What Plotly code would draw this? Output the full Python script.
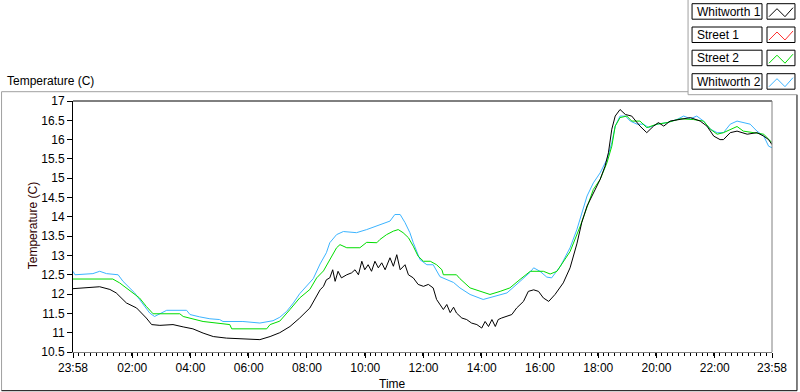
import datetime as dt
import plotly.graph_objects as go

# ---------------- data ----------------
series_names = ["Whitworth 1", "Street 1", "Street 2", "Whitworth 2"]
series_colors = ["#000000", "#ff3030", "#00dd00", "#3cb4ff"]

whitworth1_times = ["23:58", "00:39", "00:53", "01:14", "01:27", "01:48", "02:09", "02:29", "02:40", "02:57",
                    "03:24", "03:45", "04:05", "04:26", "04:47", "05:14", "05:42", "06:09", "06:23", "06:44",
                    "07:04", "07:25", "07:45", "08:06", "08:27", "08:34", "08:40", "08:47", "08:53", "08:58",
                    "09:04", "09:11", "09:22", "09:32", "09:39", "09:46", "09:53", "09:59", "10:06", "10:13",
                    "10:20", "10:27", "10:34", "10:41", "10:51", "10:58", "11:05", "11:12", "11:22", "11:29",
                    "11:39", "11:49", "12:00", "12:10", "12:20", "12:27", "12:34", "12:41", "12:48", "12:55",
                    "13:02", "13:08", "13:19", "13:29", "13:39", "13:50", "14:00", "14:07", "14:14", "14:21",
                    "14:28", "14:34", "14:41", "14:52", "15:02", "15:12", "15:26", "15:36", "15:47", "15:57",
                    "16:07", "16:18", "16:31", "16:48", "17:02", "17:16", "17:26", "17:37", "17:50",
                    "18:04", "18:14", "18:21", "18:28", "18:35", "18:45", "18:56", "19:09", "19:26", "19:40",
                    "19:54", "20:04", "20:15", "20:28", "20:49", "21:10", "21:30", "21:44", "21:58", "22:11",
                    "22:18", "22:32", "22:46", "23:07", "23:27", "23:41", "23:51", "23:58"]
whitworth1_values = [12.14, 12.19, 12.19, 12.12, 12.03, 11.77, 11.64, 11.38, 11.21, 11.19,
                     11.21, 11.15, 11.10, 10.99, 10.90, 10.86, 10.84, 10.82, 10.82, 10.90,
                     11.00, 11.16, 11.38, 11.64, 12.11, 12.20, 12.37, 12.42, 12.63, 12.33,
                     12.59, 12.42, 12.50, 12.55, 12.63, 12.50, 12.85, 12.63, 12.76, 12.59,
                     12.85, 12.68, 12.81, 12.63, 12.94, 12.72, 13.02, 12.63, 12.76, 12.50,
                     12.42, 12.25, 12.20, 12.25, 12.16, 11.86, 11.73, 11.60, 11.73, 11.52,
                     11.66, 11.51, 11.38, 11.34, 11.25, 11.21, 11.12, 11.29, 11.16, 11.34,
                     11.16, 11.34, 11.38, 11.42, 11.47, 11.64, 11.81, 12.07, 12.11, 12.07,
                     11.90, 11.81, 11.99, 12.29, 12.68, 13.30, 13.85, 14.28, 14.62,
                     14.97, 15.31, 15.66, 16.27, 16.61, 16.78, 16.65, 16.61, 16.35, 16.18,
                     16.35, 16.44, 16.35, 16.48, 16.52, 16.57, 16.48, 16.35, 16.09, 16.00,
                     16.00, 16.18, 16.22, 16.14, 16.18, 16.09, 16.00, 15.87]

street1_times = []
street1_values = []

street2_times = ["23:58", "01:20", "01:34", "01:48", "02:02", "02:15", "02:29", "02:43", "03:38", "03:45",
                 "04:26", "05:21", "05:25", "06:37", "06:44", "07:04", "07:25", "07:45", "08:06", "08:20",
                 "08:34", "08:47", "09:01", "09:08", "09:22", "09:49", "10:03", "10:24", "10:30", "10:44",
                 "10:58", "11:08", "11:18", "11:29", "11:39", "11:49", "12:00", "12:14", "12:27", "12:38",
                 "12:41", "13:08", "13:15", "13:36", "13:57", "14:17", "14:38", "14:58", "15:19", "15:40",
                 "16:07", "16:21", "16:35", "16:42", "17:02", "17:23", "17:37", "17:50", "18:04", "18:18",
                 "18:28", "18:35", "18:45", "18:59", "19:09", "19:26", "19:40", "20:01", "20:22", "20:49",
                 "21:16", "21:37", "21:51", "22:05", "22:18", "22:32", "22:46", "22:59", "23:20", "23:41",
                 "23:58"]
street2_values = [12.39, 12.39, 12.29, 12.16, 12.03, 11.90, 11.68, 11.49, 11.49, 11.42,
                  11.29, 11.21, 11.10, 11.10, 11.21, 11.30, 11.60, 11.90, 12.12, 12.42,
                  12.60, 12.90, 13.20, 13.28, 13.20, 13.20, 13.34, 13.33, 13.41, 13.54,
                  13.63, 13.67, 13.59, 13.46, 13.24, 12.98, 12.85, 12.85, 12.76, 12.63,
                  12.50, 12.50, 12.40, 12.16, 12.07, 11.99, 12.07, 12.16, 12.38, 12.59,
                  12.59, 12.52, 12.59, 12.72, 13.10, 13.76, 14.28, 14.71, 14.97, 15.40,
                  15.83, 16.35, 16.57, 16.61, 16.48, 16.48, 16.31, 16.40, 16.44, 16.54,
                  16.52, 16.48, 16.27, 16.14, 16.18, 16.27, 16.34, 16.22, 16.18, 16.14,
                  15.92]

whitworth2_times = ["23:58", "00:02", "00:39", "00:53", "01:07", "01:31", "01:41", "01:55", "02:05", "02:15",
                    "02:26", "02:36", "02:46", "02:57", "03:11", "03:52", "03:59", "04:19", "04:40", "05:00",
                    "05:07", "05:48", "06:23", "06:50", "07:04", "07:18", "07:32", "07:45", "07:59", "08:13",
                    "08:27", "08:40", "08:47", "09:01", "09:15", "09:42", "10:03", "10:30", "10:51", "11:01",
                    "11:12", "11:22", "11:32", "11:39", "11:46", "11:53", "12:07", "12:20", "12:34", "12:48",
                    "13:02", "13:15", "13:36", "14:03", "14:24", "14:52", "15:19", "15:40", "15:47", "16:00",
                    "16:14", "16:24", "16:42", "17:02", "17:16", "17:26", "17:37", "17:50", "18:04", "18:18",
                    "18:28", "18:35", "18:45", "18:56", "19:06", "19:20", "19:33", "19:44", "20:01", "20:22",
                    "20:42", "20:56", "21:10", "21:23", "21:37", "21:51", "22:05", "22:18", "22:32", "22:46",
                    "22:59", "23:13", "23:27", "23:41", "23:51", "23:58"]
whitworth2_values = [12.59, 12.50, 12.53, 12.59, 12.53, 12.50, 12.33, 12.16, 12.03, 11.86,
                     11.68, 11.51, 11.42, 11.49, 11.58, 11.58, 11.47, 11.41, 11.36, 11.34,
                     11.29, 11.29, 11.25, 11.31, 11.40, 11.55, 11.77, 12.01, 12.20, 12.40,
                     12.78, 13.07, 13.33, 13.54, 13.62, 13.59, 13.67, 13.80, 13.89, 14.06,
                     14.06, 13.85, 13.59, 13.33, 13.11, 12.89, 12.76, 12.76, 12.45, 12.37,
                     12.30, 12.16, 11.99, 11.86, 11.94, 12.03, 12.33, 12.57, 12.68, 12.59,
                     12.44, 12.42, 12.72, 13.20, 13.67, 14.10, 14.54, 14.88, 15.14, 15.49,
                     15.92, 16.35, 16.61, 16.61, 16.48, 16.40, 16.40, 16.31, 16.40, 16.44,
                     16.52, 16.61, 16.54, 16.61, 16.48, 16.27, 16.18, 16.18, 16.40, 16.48,
                     16.44, 16.40, 16.22, 16.09, 15.83, 15.79]

x_tick_labels = ["23:58", "02:00", "04:00", "06:00", "08:00", "10:00", "12:00",
                 "14:00", "16:00", "18:00", "20:00", "22:00", "23:58"]
y_tick_values = [10.5, 11, 11.5, 12, 12.5, 13, 13.5, 14, 14.5, 15, 15.5, 16, 16.5, 17]
y_title = "Temperature (C)"
x_title = "Time"
chart_title = "Temperature (C)"

# ---------------- helpers ----------------
START = dt.datetime(2021, 1, 1, 23, 58)


def to_dt(label, idx):
    h, m = map(int, label.split(":"))
    mins = (h * 60 + m - (23 * 60 + 58)) % 1440
    if mins == 0 and idx > 0:
        mins = 1440
    return START + dt.timedelta(minutes=mins)


def conv(times):
    return [to_dt(t, i) for i, t in enumerate(times)]


tick_dts = [START] + [START + dt.timedelta(minutes=2 + 120 * k) for k in range(1, 12)] + [START + dt.timedelta(days=1)]

W, H = 800, 392
L, R, T, B = 72.5, 28.0, 101.3, 39.7
PW, PH = W - L - R, H - T - B


def px(x):
    return (x - L) / PW


def py(y):
    return (H - B - y) / PH


FONT = "Liberation Sans"

fig = go.Figure()
all_times = [whitworth1_times, street1_times, street2_times, whitworth2_times]
all_vals = [whitworth1_values, street1_values, street2_values, whitworth2_values]
# draw order: street1, whitworth2, street2, whitworth1 (black on top)
for i in [1, 3, 2, 0]:
    fig.add_trace(go.Scatter(x=conv(all_times[i]), y=all_vals[i], mode="lines",
                             name=series_names[i], line=dict(color=series_colors[i], width=1),
                             showlegend=False))

fig.update_layout(
    width=W, height=H,
    margin=dict(l=L, r=R, t=T, b=B, pad=0),
    paper_bgcolor="white", plot_bgcolor="white",
    font=dict(family=FONT, size=12, color="#000000"),
    showlegend=False,
)
fig.update_xaxes(
    type="date",
    range=[START, START + dt.timedelta(days=1)],
    tickmode="array", tickvals=tick_dts, ticktext=x_tick_labels,
    ticks="outside", ticklen=5, tickwidth=1, tickcolor="#000000",
    showline=True, linecolor="#808080", linewidth=1,
    showgrid=False, zeroline=False,
    tickfont=dict(family=FONT, size=12, color="#000000"),
    minor=dict(ticks="outside", ticklen=3, tickcolor="#000000",
               tick0=START, dtick=12 * 60 * 1000, showgrid=False),
)
fig.update_yaxes(
    range=[10.5, 17],
    tickmode="array", tickvals=y_tick_values, ticktext=[f"{v:g}" for v in y_tick_values],
    ticks="outside", ticklen=5, tickwidth=1, tickcolor="#000000",
    showline=True, linecolor="#000000", linewidth=1,
    showgrid=False, zeroline=False,
    tickfont=dict(family=FONT, size=12, color="#000000"),
)

shapes = []


def line(x0, y0, x1, y1, color, width=1):
    shapes.append(dict(type="line", xref="paper", yref="paper",
                       x0=px(x0), y0=py(y0), x1=px(x1), y1=py(y1),
                       line=dict(color=color, width=width)))


# plot frame: top black, right gray
line(L, T, L + PW, T, "#000000")
line(L + PW, T, L + PW, H - B, "#808080")
# outer chart frame
line(1, 92, 688, 92, "#a0a0a0")
line(1, 92, 1, 391, "#a0a0a0")
line(1, 391, 797, 391, "#000000")
line(797, 95, 797, 391, "#000000")
# legend panel
line(688, 0, 688, 95, "#a0a0a0")
line(688, 95, 797, 95, "#a0a0a0")

annotations = [
    dict(text=chart_title, xref="paper", yref="paper", x=px(4), y=py(81), xanchor="left", yanchor="middle",
         showarrow=False, font=dict(family=FONT, size=12, color="#000000")),
    dict(text=y_title, xref="paper", yref="paper", x=px(32), y=py(226), xanchor="center", yanchor="middle",
         textangle=-90, showarrow=False, font=dict(family=FONT, size=12, color="#300000")),
    dict(text=x_title, xref="paper", yref="paper", x=px(392), y=py(384), xanchor="center", yanchor="middle",
         showarrow=False, font=dict(family=FONT, size=12, color="#000000")),
]

row_tops = [4, 27.3, 50.5, 74]
for name, color, top in zip(series_names, series_colors, row_tops):
    bot = top + 15.5
    shapes.append(dict(type="rect", xref="paper", yref="paper", x0=px(692), x1=px(762),
                       y0=py(bot), y1=py(top), line=dict(color="#000000", width=1), fillcolor="white"))
    shapes.append(dict(type="rect", xref="paper", yref="paper", x0=px(767), x1=px(795),
                       y0=py(bot), y1=py(top), line=dict(color="#000000", width=1), fillcolor="white"))
    pts = [(769, bot - 2.5), (777, top + 5), (785, bot - 2.5), (793, top + 4)]
    path = "M " + " L ".join(f"{px(a):.5f},{py(b):.5f}" for a, b in pts)
    shapes.append(dict(type="path", xref="paper", yref="paper", path=path,
                       line=dict(color=color, width=1)))
    annotations.append(dict(text=name, xref="paper", yref="paper", x=px(694.5), y=py(top + 7.9),
                            xanchor="left", yanchor="middle", showarrow=False,
                            font=dict(family=FONT, size=12, color="#000000")))

fig.update_layout(shapes=shapes, annotations=annotations)
fig.write_html("out.html", config={"displayModeBar": False},
               post_script="document.body.style.margin='0';document.body.style.padding='0';"
                           "document.body.style.overflow='hidden';")
